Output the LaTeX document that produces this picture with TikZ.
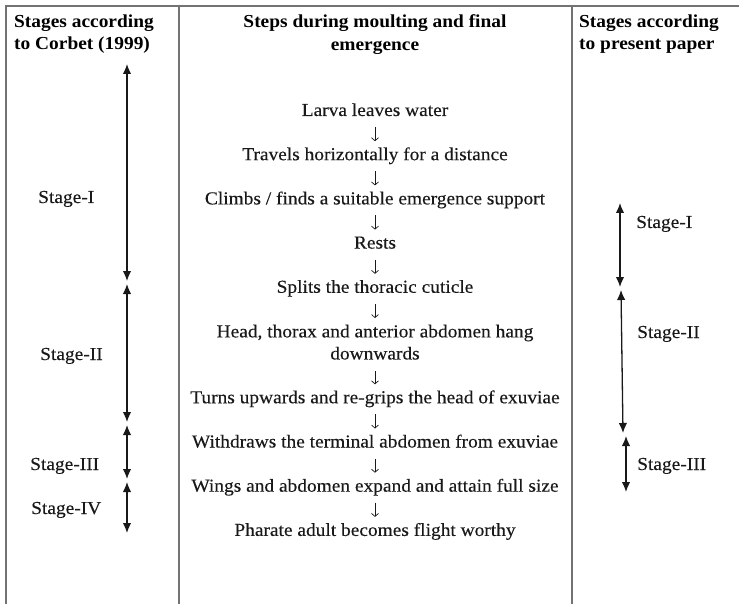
\documentclass[tikz,border=0pt]{standalone}
\usepackage{fontspec}
\setmainfont{Liberation Serif}[FakeStretch=1.06]
\newfontfamily\bodyfont{Liberation Serif}[FakeStretch=1.06,FakeBold=0.25]
\usetikzlibrary{arrows.meta}
\begin{document}
\begin{tikzpicture}[x=1pt,y=-1pt,
  stepnode/.style={inner sep=0pt, anchor=base, font=\bodyfont\fontsize{18.3}{22.1}\selectfont, text=black!90},
  hdr/.style={inner sep=0pt, font=\fontsize{18.3}{22.5}\selectfont\bfseries, text=black},
  stagelbl/.style={inner sep=0pt, anchor=base west, font=\bodyfont\fontsize{18.3}{22.1}\selectfont, text=black!90},
  rule/.style={line width=1.2pt, draw=black!55},
  conn/.style={line width=0.7pt, draw=black!90, -{Straight Barb[length=3pt,width=7pt]}},
  stagearr/.style={line width=1.3pt, draw=black!90, {Latex[length=10pt,width=8.5pt]}-{Latex[length=10pt,width=8.5pt]}}]
\useasboundingbox (0,0) rectangle (739,604);
\fill[white] (0,0) rectangle (739,604);
% table rules
\draw[rule] (739,6) -- (6,6) -- (6,604);
\draw[rule] (179,6) -- (179,604);
\draw[rule] (572,6) -- (572,604);
% headers
\node[hdr, anchor=north west, align=left] (h1) at (14,14.5) {Stages according\\to Corbet (1999)};
\node[hdr, anchor=north, align=center] (h2) at (375,14.5) {Steps during moulting and final\\emergence};
\node[hdr, anchor=north west, align=left] (h3) at (579,14.5) {Stages according\\to present paper};
% steps
\node[stepnode] (s1) at (375,116) {Larva leaves water};
\node[stepnode] (s2) at (375,160.2) {Travels horizontally for a distance};
\node[stepnode] (s3) at (375,204.4) {Climbs / finds a suitable emergence support};
\node[stepnode] (s4) at (375,248.6) {Rests};
\node[stepnode] (s5) at (375,292.8) {Splits the thoracic cuticle};
\node[stepnode, anchor=north, align=center] (s6) at (375,324.5) {Head, thorax and anterior abdomen hang\\downwards};
\node[stepnode] (s7) at (375,403.3) {Turns upwards and re-grips the head of exuviae};
\node[stepnode] (s8) at (375,447.5) {Withdraws the terminal abdomen from exuviae};
\node[stepnode] (s9) at (375,491.7) {Wings and abdomen expand and attain full size};
\node[stepnode] (s10) at (375,535.9) {Pharate adult becomes flight worthy};
% step connectors
\draw[conn] ([yshift=-11pt]s1.base) -- ([yshift=19pt]s2.base);
\draw[conn] ([yshift=-11pt]s2.base) -- ([yshift=19pt]s3.base);
\draw[conn] ([yshift=-11pt]s3.base) -- ([yshift=19pt]s4.base);
\draw[conn] ([yshift=-11pt]s4.base) -- ([yshift=19pt]s5.base);
\draw[conn] ([yshift=-11pt]s5.base) -- ([yshift=6.5pt]s6.north);
\draw[conn] ([yshift=-11pt]s6.south) -- ([yshift=19pt]s7.base);
\draw[conn] ([yshift=-11pt]s7.base) -- ([yshift=19pt]s8.base);
\draw[conn] ([yshift=-11pt]s8.base) -- ([yshift=19pt]s9.base);
\draw[conn] ([yshift=-11pt]s9.base) -- ([yshift=19pt]s10.base);
% Corbet stages
\coordinate (c1a) at (127,64);
\coordinate (c1b) at (127,281);
\coordinate (c2a) at (127,284);
\coordinate (c2b) at (127,422);
\coordinate (c3a) at (127,425);
\coordinate (c3b) at (127,479);
\coordinate (c4a) at (127,482);
\coordinate (c4b) at (127,533);
\draw[stagearr] (c1a) -- (c1b);
\draw[stagearr] (c2a) -- (c2b);
\draw[stagearr] (c3a) -- (c3b);
\draw[stagearr] (c4a) -- (c4b);
\node[stagelbl] (l1) at (38,203) {Stage-I};
\node[stagelbl] (l2) at (40,360) {Stage-II};
\node[stagelbl] (l3) at (30,470) {Stage-III};
\node[stagelbl] (l4) at (31,514) {Stage-IV};
% present paper stages
\coordinate (p1a) at (620,203);
\coordinate (p1b) at (620,287);
\coordinate (p2a) at (621,290);
\coordinate (p2b) at (623,433);
\coordinate (p3a) at (626,436);
\coordinate (p3b) at (626,492);
\draw[stagearr] (p1a) -- (p1b);
\draw[stagearr] (p2a) -- (p2b);
\draw[stagearr] (p3a) -- (p3b);
\node[stagelbl] (r1) at (636,228) {Stage-I};
\node[stagelbl] (r2) at (637,338) {Stage-II};
\node[stagelbl] (r3) at (637,470) {Stage-III};
\end{tikzpicture}
\end{document}
